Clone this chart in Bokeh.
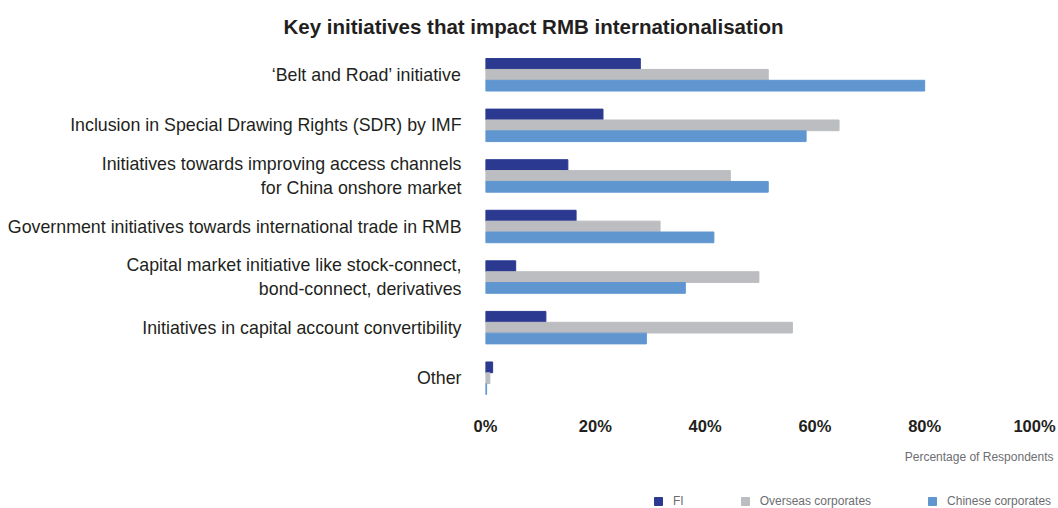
from bokeh.plotting import figure
from bokeh.models import FactorRange, Range1d, FixedTicker, Legend, LegendItem, Title, ColumnDataSource
from bokeh.transform import dodge
from bokeh.embed import file_html
from bokeh.resources import INLINE

categories = [
    "\u2018Belt and Road\u2019 initiative",
    "Inclusion in Special Drawing Rights (SDR) by IMF",
    "Initiatives towards improving access channels\nfor China onshore market",
    "Government initiatives towards international trade in RMB",
    "Capital market initiative like stock-connect,\nbond-connect, derivatives",
    "Initiatives in capital account convertibility",
    "Other",
]
fi = [28.2, 21.4, 15.0, 16.5, 5.5, 11.0, 1.3]
overseas = [51.5, 64.4, 44.6, 31.8, 49.8, 55.9, 0.8]
chinese = [80.0, 58.4, 51.5, 41.6, 36.4, 29.3, 0.2]
series_names = ["FI", "Overseas corporates", "Chinese corporates"]
x_ticks = [0, 20, 40, 60, 80, 100]
x_tick_labels = ["0%", "20%", "40%", "60%", "80%", "100%"]
title_text = "Key initiatives that impact RMB internationalisation"
x_title = "Percentage of Respondents"

colors = ["#2b3990", "#bcbdc0", "#6096d0"]
FONT = "Liberation Sans"
DARK = "#231f20"
GREY = "#6d6e71"

src = ColumnDataSource(dict(cat=categories, fi=fi, overseas=overseas, chinese=chinese))

p = figure(width=1058, height=493, output_backend="svg", toolbar_location=None,
           y_range=FactorRange(factors=categories[::-1]), x_range=Range1d(0, 100),
           min_border_left=485, min_border_right=24, min_border_top=49, min_border_bottom=90)
p.outline_line_color = None
p.grid.visible = False

bh = 0.212
offsets = [0.215, 0.0, -0.215]
keys = ["fi", "overseas", "chinese"]
for k, off, c in zip(keys, offsets, colors):
    p.hbar(y=dodge("cat", off, range=p.y_range), right=k, left=0, height=bh,
           source=src, color=c)

xa = p.xaxis[0]
xa.ticker = FixedTicker(ticks=x_ticks)
xa.major_label_overrides = {t: l for t, l in zip(x_ticks, x_tick_labels)}
xa.axis_line_color = None
xa.major_tick_line_color = None
xa.minor_tick_line_color = None
xa.major_label_text_font = FONT
xa.major_label_text_font_style = "bold"
xa.major_label_text_font_size = "16.5px"
xa.major_label_text_color = DARK
xa.major_label_standoff = 7

ya = p.yaxis[0]
ya.axis_line_color = None
ya.major_tick_line_color = None
ya.minor_tick_line_color = None
ya.major_label_text_font = FONT
ya.major_label_text_font_size = "17.8px"
ya.major_label_text_color = DARK
ya.major_label_standoff = 18

p.add_layout(Title(text=title_text, align="left", offset=-202, standoff=24,
                   text_font=FONT, text_font_style="bold", text_font_size="20.5px",
                   text_color=DARK), "above")
p.add_layout(Title(text=x_title, align="right", offset=-19, standoff=21,
                   text_font=FONT, text_font_style="normal", text_font_size="12px",
                   text_color=GREY), "below")

# legend strip below the chart (proxy renderers lie outside its visible range)
p2 = figure(width=1058, height=15, output_backend="svg", toolbar_location=None,
            x_axis_location=None, y_axis_location=None, min_border=0,
            min_border_left=0, min_border_right=0, min_border_top=0, min_border_bottom=0,
            x_range=Range1d(0, 1), y_range=Range1d(0, 1))
p2.outline_line_color = None
p2.grid.visible = False
proxy_src = ColumnDataSource(dict(y=[-5.0], right=[-5.0], left=[-6.0]))
proxies = [p2.hbar(y="y", right="right", left="left", height=0.5, source=proxy_src, color=c)
           for c in colors]
legend = Legend(items=[LegendItem(label=n, renderers=[r], index=0) for n, r in zip(series_names, proxies)],
                orientation="horizontal", location=(653, 0),
                padding=0, margin=0, spacing=56, label_standoff=10, label_width=10,
                glyph_width=10, glyph_height=10, label_height=14,
                border_line_alpha=0, background_fill_alpha=0,
                label_text_font=FONT, label_text_font_size="12px", label_text_color=GREY)
p2.add_layout(legend, "center")

open("out.html", "w").write(file_html([p, p2], INLINE))
